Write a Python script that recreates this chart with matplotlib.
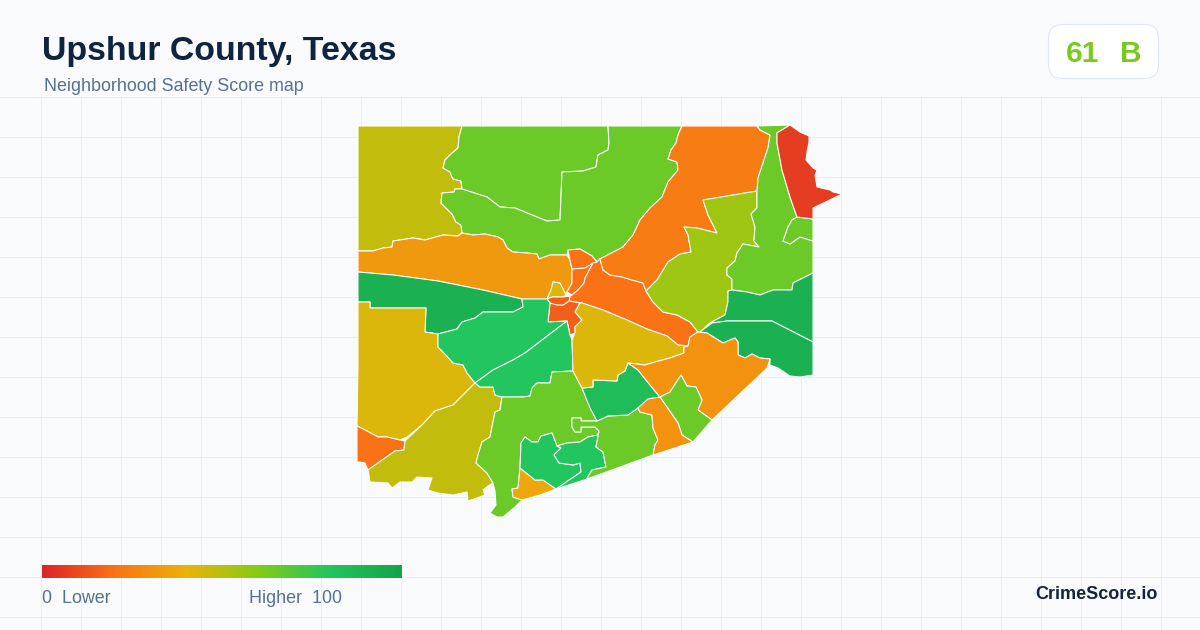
import numpy as np
import matplotlib
matplotlib.use("Agg")
import matplotlib.pyplot as plt
from matplotlib.colors import LinearSegmentedColormap, Normalize
from matplotlib.patches import FancyBboxPatch, Polygon

plt.rcParams['font.family'] = ['Liberation Sans', 'DejaVu Sans']

# tract outlines in pixels
nw_olive = [(358,126),(462,126),(459,137),(458,148),(451,154),(445,160),(443,168),(450,172),(453,179),(461,181),(462,189),(455,189),(454,192),(442,193),(441,203),(452,214),(456,222),(461,225),(462,233),(458,236),(443,235),(425,240),(413,238),(393,241),(392,247),(383,248),(373,251),(358,251)]
north_a = [(462,126),(608,126),(609,143),(608,150),(598,155),(596,167),(583,171),(562,172),(560,220),(547,221),(532,215),(515,208),(500,207),(487,197),(462,189),(461,181),(453,179),(450,172),(443,168),(445,160),(451,154),(458,148),(459,137)]
north_b = [(462,189),(487,197),(500,207),(515,208),(532,215),(547,221),(560,220),(562,172),(583,171),(596,167),(598,155),(608,150),(609,143),(608,126),(682,126),(678,135),(676,143),(671,150),(668,159),(677,162),(678,170),(668,182),(662,197),(650,208),(640,220),(633,235),(623,247),(600,259),(597,262),(592,256),(580,249),(568,250),(567,255),(550,255),(539,259),(537,254),(527,253),(513,252),(507,248),(503,240),(498,237),(485,234),(473,235),(462,233),(461,225),(456,222),(452,214),(441,203),(442,193),(454,192),(455,189)]
strip_orange = [(358,251),(373,251),(383,248),(392,247),(393,241),(413,238),(425,240),(443,235),(458,236),(462,233),(473,235),(485,234),(498,237),(503,240),(507,248),(513,252),(527,253),(537,254),(539,259),(550,255),(567,255),(570,260),(572,269),(572,283),(567,292),(566,295),(560,283),(553,282),(551,290),(547,299),(522,299),(483,290),(438,281),(393,275),(358,272)]
center_yellow = [(553,282),(560,283),(566,295),(563,297),(552,297),(547,299),(551,290)]
center_top = [(568,250),(580,249),(592,256),(597,262),(585,268),(572,269),(570,260)]
center_narrow = [(572,269),(585,268),(593,263),(585,278),(584,283),(578,290),(572,295),(567,292),(572,283)]
center_east = [(597,262),(600,259),(603,270),(610,275),(622,277),(632,280),(643,283),(646,291),(653,302),(663,312),(677,315),(690,322),(698,332),(690,337),(688,346),(678,345),(667,336),(647,329),(627,320),(603,310),(582,303),(569,301),(570,296),(572,295),(578,290),(584,283),(585,278),(593,263)]
center_big = [(550,303),(563,305),(569,301),(580,303),(575,312),(582,320),(575,327),(575,333),(570,335),(567,321),(548,322)]
center_small = [(547,299),(552,297),(563,297),(570,296),(569,301),(563,305),(557,305),(550,303)]
west_green = [(358,272),(393,275),(438,281),(483,290),(522,299),(523,307),(513,312),(483,312),(475,318),(462,322),(457,329),(438,334),(425,332),(426,308),(370,308),(370,302),(358,302)]
west_yellow = [(358,302),(370,302),(370,308),(426,308),(425,332),(438,334),(438,347),(445,354),(453,363),(463,365),(467,373),(475,383),(463,395),(453,405),(435,411),(422,425),(407,437),(400,440),(387,437),(378,437),(365,430),(357,426),(358,365)]
sw_orange = [(357,426),(365,430),(378,437),(387,437),(400,440),(405,441),(404,450),(395,451),(368,470),(365,463),(360,462),(357,462)]
sw_olive = [(368,470),(395,451),(404,450),(405,441),(422,425),(435,411),(453,405),(463,395),(475,383),(480,387),(493,387),(495,395),(502,397),(500,410),(495,412),(490,437),(482,442),(478,455),(476,463),(487,473),(493,483),(488,486),(483,490),(485,495),(477,498),(468,501),(467,492),(453,495),(438,493),(428,490),(432,478),(417,477),(412,482),(400,482),(392,488),(388,483),(370,482),(369,475)]
mid_north = [(522,299),(547,299),(550,303),(548,322),(567,321),(525,353),(513,360),(493,370),(475,383),(467,373),(463,365),(453,363),(445,354),(438,347),(438,334),(457,329),(462,322),(475,318),(483,312),(513,312),(523,307)]
mid_south = [(567,321),(570,335),(572,340),(573,371),(552,372),(550,383),(537,383),(532,388),(530,396),(523,397),(502,397),(495,395),(493,387),(480,387),(475,383),(493,370),(513,360),(525,353)]
south_green = [(502,397),(523,397),(530,396),(532,388),(537,383),(550,383),(552,372),(573,371),(582,388),(587,400),(597,421),(581,421),(581,418),(572,418),(572,427),(575,432),(581,432),(581,427),(595,427),(599,431),(598,435),(588,437),(580,442),(567,443),(557,446),(552,433),(541,436),(538,442),(532,442),(525,437),(521,443),(520,468),(518,488),(512,489),(513,497),(522,500),(515,507),(503,517),(497,517),(490,513),(496,505),(495,491),(493,483),(487,473),(476,463),(478,455),(482,442),(490,437),(495,412),(500,410)]
south_orange = [(520,468),(535,480),(543,480),(556,489),(540,495),(522,500),(513,497),(512,489),(518,488)]
inner_a = [(521,443),(525,437),(532,442),(538,442),(541,436),(552,433),(557,446),(561,448),(554,455),(559,463),(573,465),(580,463),(581,472),(556,489),(543,480),(535,480),(520,468)]
inner_b = [(557,446),(567,443),(580,442),(588,437),(598,435),(599,431),(596,447),(603,452),(606,467),(592,470),(589,475),(587,479),(556,489),(581,472),(580,463),(573,465),(559,463),(554,455),(561,448)]
south_lime = [(597,421),(581,421),(581,418),(572,418),(572,427),(575,432),(581,432),(581,427),(595,427),(599,431),(596,447),(603,452),(606,467),(592,470),(589,475),(587,479),(653,455),(655,445),(658,440),(653,428),(652,415),(640,412),(638,408),(628,415),(608,416)]
mid_dark = [(582,388),(593,387),(593,380),(617,381),(618,375),(625,371),(628,363),(638,370),(650,385),(660,397),(648,399),(638,408),(628,415),(608,416),(597,421),(590,408)]
east_yellow = [(580,303),(582,303),(603,310),(627,320),(647,329),(667,336),(678,345),(688,346),(684,347),(684,353),(670,358),(655,362),(645,365),(628,363),(625,371),(618,375),(617,381),(593,380),(593,387),(582,388),(573,371),(572,340),(575,333),(575,327),(582,320),(575,312)]
top_orange = [(682,126),(757,126),(760,130),(770,135),(768,148),(763,163),(758,178),(757,191),(703,200),(708,215),(717,233),(697,228),(684,227),(688,235),(691,252),(680,254),(668,262),(657,280),(646,291),(643,283),(632,280),(622,277),(610,275),(603,270),(600,259),(623,247),(633,235),(640,220),(650,208),(662,197),(668,182),(678,170),(677,162),(668,159),(671,150),(676,143),(678,135)]
east_lime = [(703,200),(757,191),(757,208),(751,214),(755,227),(754,241),(759,247),(743,244),(737,253),(735,261),(727,268),(727,275),(732,279),(732,290),(728,291),(728,302),(725,315),(710,323),(700,332),(698,332),(690,322),(677,315),(663,312),(653,302),(646,291),(657,280),(668,262),(680,254),(691,252),(688,235),(684,227),(697,228),(717,233),(708,215)]
ne_green = [(757,126),(790,125),(777,133),(777,143),(782,170),(790,197),(797,217),(792,220),(788,227),(783,241),(790,244),(800,237),(813,241),(813,273),(793,283),(792,290),(773,290),(760,295),(747,292),(732,290),(732,279),(727,275),(727,268),(735,261),(737,253),(743,244),(759,247),(754,241),(755,227),(751,214),(757,208),(757,191),(758,178),(763,163),(768,148),(770,135),(760,130)]
ne_small = [(797,217),(813,219),(813,241),(800,237),(790,244),(783,241),(788,227),(792,220)]
ne_red = [(777,133),(790,125),(800,132),(809,136),(809,142),(807,152),(806,160),(813,168),(817,170),(815,175),(817,187),(830,190),(833,192),(842,194),(813,208),(813,219),(797,217),(790,197),(782,170),(777,143)]
east_green_a = [(728,291),(732,290),(747,292),(760,295),(773,290),(792,290),(793,283),(813,273),(813,342),(772,321),(727,321),(712,323),(700,332),(710,323),(725,315),(728,302)]
east_green_b = [(700,332),(712,323),(727,321),(772,321),(813,342),(813,375),(800,377),(790,376),(778,368),(770,365),(770,359),(760,358),(752,354),(745,358),(738,355),(738,342),(735,338),(723,343),(715,338),(707,333)]
se_orange = [(698,332),(707,333),(715,338),(723,343),(735,338),(738,342),(738,355),(745,358),(752,354),(760,358),(770,359),(767,368),(712,420),(698,410),(702,400),(696,387),(687,386),(681,375),(670,392),(660,397),(650,385),(638,370),(628,363),(645,365),(655,362),(670,358),(684,353),(684,347),(688,346),(690,337)]
se_lime = [(681,375),(687,386),(696,387),(702,400),(698,410),(712,420),(693,442),(682,435),(678,423),(660,397),(670,392)]
se_small = [(660,397),(678,423),(682,435),(693,442),(653,455),(655,445),(658,440),(653,428),(652,415),(640,412),(638,408),(648,399)]

tracts = [nw_olive, north_a, north_b, strip_orange, center_yellow, center_top, center_narrow,
          center_east, center_big, center_small, west_green, west_yellow, sw_orange, sw_olive,
          mid_north, mid_south, south_green, south_orange, inner_a, inner_b, south_lime, mid_dark,
          east_yellow, top_orange, east_lime, ne_green, ne_small, ne_red, east_green_a,
          east_green_b, se_orange, se_lime, se_small]
scores = [48, 65, 65, 32, 43, 20, 20,
          20, 15, 15, 92, 43, 20, 48,
          80, 80, 65, 36, 80, 80, 65, 85,
          43, 23, 55, 65, 65, 6, 92,
          92, 30, 65, 30]

grid_x = np.arange(40, 1200, 40)
grid_y = np.arange(96, 630, 40)

score_stops = [0, 20, 40, 60, 80, 100]
stop_colors = ["#dc2626", "#f97316", "#eab308", "#84cc16", "#22c55e", "#16a34a"]

cmap = LinearSegmentedColormap.from_list("score", [(s / 100, c) for s, c in zip(score_stops, stop_colors)])
norm = Normalize(0, 100)

fig = plt.figure(figsize=(12, 6.3), dpi=100, facecolor="#f8fafc")
ax = fig.add_axes([0, 0, 1, 1])
ax.set_xlim(0, 1200)
ax.set_ylim(630, 0)
ax.axis("off")

# faint grid, starts under the header
ax.vlines(grid_x + 0.5, 96, 630, color="#e6eff3", lw=0.72, zorder=1)
ax.hlines(grid_y + 0.5, 0, 1200, color="#e6eff3", lw=0.72, zorder=1)

for shape, score in zip(tracts, scores):
    ax.add_patch(Polygon(shape, closed=True, facecolor=cmap(norm(score)), edgecolor="white", lw=0.75, joinstyle="round", zorder=2))

# header
ax.text(42, 60, "Upshur County, Texas", fontsize=24.4, fontweight="bold", color="#0f2440", va="baseline")
ax.text(44, 91, "Neighborhood Safety Score map", fontsize=12.9, color="#5a7090", va="baseline")

# score badge
ax.add_patch(FancyBboxPatch((1048.5, 24.5), 110, 54, boxstyle="round,pad=0,rounding_size=14", facecolor="white", edgecolor="#e2e8f0", lw=0.8, zorder=3))
ax.text(1066, 62, "61", fontsize=21.5, fontweight="bold", color="#7ac91f", va="baseline", zorder=4)
ax.text(1119.5, 62, "B", fontsize=21.5, fontweight="bold", color="#7ac91f", va="baseline", zorder=4)

# legend bar
bar = np.linspace(0, 100, 360).reshape(1, -1)
ax.imshow(bar, cmap=cmap, norm=norm, extent=(42, 402, 578, 565), aspect="auto", zorder=3)
ax.set_xlim(0, 1200)
ax.set_ylim(630, 0)
ax.text(42, 603, "0  Lower", fontsize=12.9, color="#5a7090", va="baseline", zorder=4)
ax.text(249, 603, "Higher  100", fontsize=12.9, color="#5a7090", va="baseline", zorder=4)

ax.text(1158, 599, "CrimeScore.io", fontsize=13, fontweight="bold", color="#14243c", ha="right", va="baseline", zorder=4)

fig.savefig("out.png", dpi=100, facecolor=fig.get_facecolor())
